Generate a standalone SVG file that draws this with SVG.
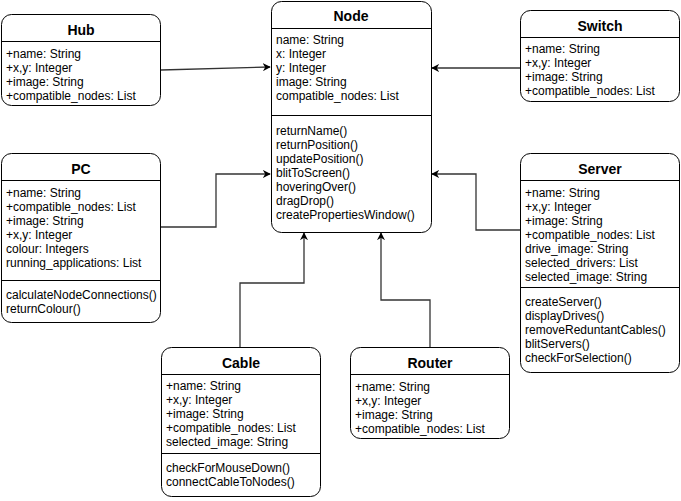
<svg xmlns="http://www.w3.org/2000/svg" width="681" height="501" viewBox="0 0 681 501">
  <style>
    .box { fill: #ffffff; stroke: #000000; stroke-width: 1; }
    .sep { stroke: #000000; stroke-width: 1; }
    .title { font-family: "Liberation Sans", Arial, sans-serif; font-size: 14px; font-weight: bold; text-anchor: middle; fill: #000; }
    .row { font-family: "Liberation Sans", Arial, sans-serif; font-size: 12px; fill: #000; }
    .edge { fill: none; stroke: #333333; stroke-width: 1.3; }
  </style>
  <defs>
    <marker id="arrow" viewBox="0 0 10 10" refX="9" refY="5" markerWidth="8" markerHeight="8" markerUnits="userSpaceOnUse" orient="auto">
      <path d="M0,0 L10,5 L0,10 L3,5 Z" fill="#000000"/>
    </marker>
  </defs>

  <!-- connectors -->
  <g id="connectors">
    <path class="edge" d="M161,70 L270,67" marker-end="url(#arrow)"/>
    <path class="edge" d="M520,68 L432,68" marker-end="url(#arrow)"/>
    <path class="edge" d="M160,227 L216,227 L216,174 L270,174" marker-end="url(#arrow)"/>
    <path class="edge" d="M520,230 L476,230 L476,174 L432,174" marker-end="url(#arrow)"/>
    <path class="edge" d="M240,347 L240,283 L304,283 L304,233" marker-end="url(#arrow)"/>
    <path class="edge" d="M430,347 L430,300 L381,300 L381,233" marker-end="url(#arrow)"/>
  </g>

  <!-- Node -->
  <g id="node-node">
    <rect class="box" x="271.5" y="1.5" width="160" height="231" rx="10"/>
    <line class="sep" x1="271.5" y1="28.5" x2="431.5" y2="28.5"/>
    <line class="sep" x1="271.5" y1="115.5" x2="431.5" y2="115.5"/>
    <text class="title" x="351" y="21">Node</text>
    <text class="row" x="276" y="44">name: String</text>
    <text class="row" x="276" y="58">x: Integer</text>
    <text class="row" x="276" y="72">y: Integer</text>
    <text class="row" x="276" y="86">image: String</text>
    <text class="row" x="276" y="100">compatible_nodes: List</text>
    <text class="row" x="276" y="135">returnName()</text>
    <text class="row" x="276" y="149">returnPosition()</text>
    <text class="row" x="276" y="163">updatePosition()</text>
    <text class="row" x="276" y="177">blitToScreen()</text>
    <text class="row" x="276" y="191">hoveringOver()</text>
    <text class="row" x="276" y="205">dragDrop()</text>
    <text class="row" x="276" y="219">createPropertiesWindow()</text>
  </g>

  <!-- Hub -->
  <g id="node-hub">
    <rect class="box" x="1.5" y="14.5" width="159" height="91" rx="10"/>
    <line class="sep" x1="1.5" y1="41.5" x2="160.5" y2="41.5"/>
    <text class="title" x="81" y="35">Hub</text>
    <text class="row" x="6" y="58">+name: String</text>
    <text class="row" x="6" y="72">+x,y: Integer</text>
    <text class="row" x="6" y="86">+image: String</text>
    <text class="row" x="6" y="100">+compatible_nodes: List</text>
  </g>

  <!-- Switch -->
  <g id="node-switch">
    <rect class="box" x="520.5" y="10.5" width="159" height="91" rx="10"/>
    <line class="sep" x1="520.5" y1="37.5" x2="679.5" y2="37.5"/>
    <text class="title" x="600" y="31">Switch</text>
    <text class="row" x="525" y="53">+name: String</text>
    <text class="row" x="525" y="67">+x,y: Integer</text>
    <text class="row" x="525" y="81">+image: String</text>
    <text class="row" x="525" y="95">+compatible_nodes: List</text>
  </g>

  <!-- PC -->
  <g id="node-pc">
    <rect class="box" x="1.5" y="153.5" width="159" height="169" rx="10"/>
    <line class="sep" x1="1.5" y1="180.5" x2="160.5" y2="180.5"/>
    <line class="sep" x1="1.5" y1="280.5" x2="160.5" y2="280.5"/>
    <text class="title" x="81" y="174">PC</text>
    <text class="row" x="6" y="197">+name: String</text>
    <text class="row" x="6" y="211">+compatible_nodes: List</text>
    <text class="row" x="6" y="225">+image: String</text>
    <text class="row" x="6" y="239">+x,y: Integer</text>
    <text class="row" x="6" y="253">colour: Integers</text>
    <text class="row" x="6" y="267">running_applications: List</text>
    <text class="row" x="6" y="299">calculateNodeConnections()</text>
    <text class="row" x="6" y="313">returnColour()</text>
  </g>

  <!-- Server -->
  <g id="node-server">
    <rect class="box" x="520.5" y="153.5" width="159" height="219" rx="10"/>
    <line class="sep" x1="520.5" y1="180.5" x2="679.5" y2="180.5"/>
    <line class="sep" x1="520.5" y1="287.5" x2="679.5" y2="287.5"/>
    <text class="title" x="600" y="174">Server</text>
    <text class="row" x="525" y="197">+name: String</text>
    <text class="row" x="525" y="211">+x,y: Integer</text>
    <text class="row" x="525" y="225">+image: String</text>
    <text class="row" x="525" y="239">+compatible_nodes: List</text>
    <text class="row" x="525" y="253">drive_image: String</text>
    <text class="row" x="525" y="267">selected_drivers: List</text>
    <text class="row" x="525" y="281">selected_image: String</text>
    <text class="row" x="525" y="306">createServer()</text>
    <text class="row" x="525" y="320">displayDrives()</text>
    <text class="row" x="525" y="334">removeReduntantCables()</text>
    <text class="row" x="525" y="348">blitServers()</text>
    <text class="row" x="525" y="362">checkForSelection()</text>
  </g>

  <!-- Cable -->
  <g id="node-cable">
    <rect class="box" x="161.5" y="347.5" width="159" height="149" rx="10"/>
    <line class="sep" x1="161.5" y1="374.5" x2="320.5" y2="374.5"/>
    <line class="sep" x1="161.5" y1="453.5" x2="320.5" y2="453.5"/>
    <text class="title" x="241" y="368">Cable</text>
    <text class="row" x="166" y="390">+name: String</text>
    <text class="row" x="166" y="404">+x,y: Integer</text>
    <text class="row" x="166" y="418">+image: String</text>
    <text class="row" x="166" y="432">+compatible_nodes: List</text>
    <text class="row" x="166" y="446">selected_image: String</text>
    <text class="row" x="166" y="472">checkForMouseDown()</text>
    <text class="row" x="166" y="486">connectCableToNodes()</text>
  </g>

  <!-- Router -->
  <g id="node-router">
    <rect class="box" x="350.5" y="347.5" width="159" height="91" rx="10"/>
    <line class="sep" x1="350.5" y1="374.5" x2="509.5" y2="374.5"/>
    <text class="title" x="430" y="368">Router</text>
    <text class="row" x="355" y="391">+name: String</text>
    <text class="row" x="355" y="405">+x,y: Integer</text>
    <text class="row" x="355" y="419">+image: String</text>
    <text class="row" x="355" y="433">+compatible_nodes: List</text>
  </g>
</svg>
